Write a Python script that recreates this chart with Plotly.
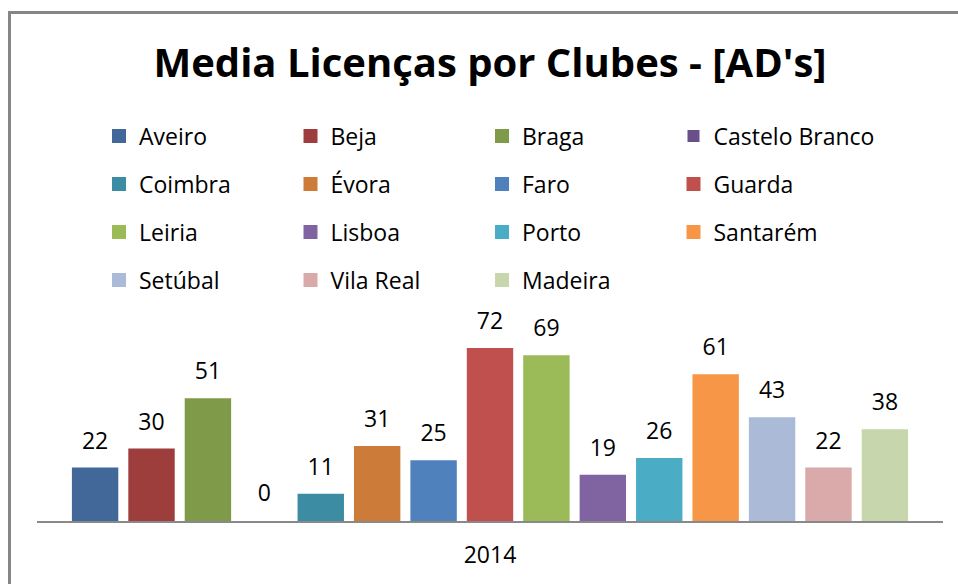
import plotly.graph_objects as go

year = "2014"
clubs = ["Aveiro", "Beja", "Braga", "Castelo Branco", "Coimbra", "Évora", "Faro",
         "Guarda", "Leiria", "Lisboa", "Porto", "Santarém", "Setúbal", "Vila Real", "Madeira"]
values = [22, 30, 51, 0, 11, 31, 25, 72, 69, 19, 26, 61, 43, 22, 38]
colors = ["#416899", "#9D3E3C", "#7F9A48", "#6A5088", "#3C8CA3", "#CC7B38", "#4F81BD",
          "#C0504D", "#9BBB59", "#8064A2", "#4BACC6", "#F79646", "#AABAD7", "#D9AAA9", "#C7D6AC"]
legend_rows = ["legend", "legend2", "legend3", "legend4"]

FONT = "Open Sans"
W, H = 958, 584
BARGAP = 0.066

fig = go.Figure()
for i, (name, val, col) in enumerate(zip(clubs, values, colors)):
    last_col = (i % 4 == 3)
    fig.add_bar(x=[year], y=[val], name=name, marker_color=col, offsetgroup=name,
                marker_line=dict(color=col, width=2 if val > 0 else 0),
                legend=legend_rows[i // 4], legendwidth=230 if last_col else 146.5,
                hoverinfo="name+y")
for name, val in zip(clubs, values):
    fig.add_scatter(x=[year], y=[val], text=[str(val)], mode="markers+text",
                    textposition="top center", offsetgroup=name, showlegend=False,
                    marker=dict(size=21, color="rgba(0,0,0,0)"), cliponaxis=False,
                    textfont=dict(family=FONT, size=23, color="#000000"), hoverinfo="skip")

row_centers = [136, 184, 232, 280]
legends = {}
for key, cy in zip(legend_rows, row_centers):
    legends[key] = dict(orientation="h", x=99 / W, xref="container", xanchor="left",
                        y=1 - cy / H, yref="container", yanchor="middle",
                        entrywidth=146.5, entrywidthmode="pixels",
                        font=dict(family=FONT, size=23, color="#000000"),
                        bgcolor="rgba(0,0,0,0)", traceorder="normal")

fig.update_layout(
    width=W, height=H,
    paper_bgcolor="white", plot_bgcolor="white",
    barmode="group", bargap=BARGAP, bargroupgap=0.213,
    scattermode="group", scattergap=BARGAP,
    margin=dict(l=37, r=15, t=330, b=63, autoexpand=False),
    title=dict(text="<b>Media Licenças por Clubes - [AD's]</b>", x=0.5, xref="paper",
               xanchor="center", y=1 - 63 / H, yref="container", yanchor="middle",
               font=dict(family=FONT, size=40, color="#000000")),
    xaxis=dict(type="category", range=[-0.5, 0.5], showgrid=False, showline=True,
               linecolor="#898989", linewidth=1.5, ticks="", ticklabelstandoff=13,
               tickfont=dict(family=FONT, size=23, color="#000000"), zeroline=False),
    yaxis=dict(range=[0, 80], visible=False, showgrid=False, zeroline=False),
    shapes=[dict(type="rect", xref="paper", yref="paper",
                 x0=(9.5 - 37) / 906, x1=1.3, y0=-1.0, y1=(521 - 12.5) / 191,
                 line=dict(color="#868686", width=3), fillcolor="rgba(0,0,0,0)", layer="below")],
    showlegend=True,
    **legends,
)

fig.write_html("out.html", config={"displayModeBar": False},
               post_script="document.body.style.margin='0';document.body.style.overflow='hidden';")
